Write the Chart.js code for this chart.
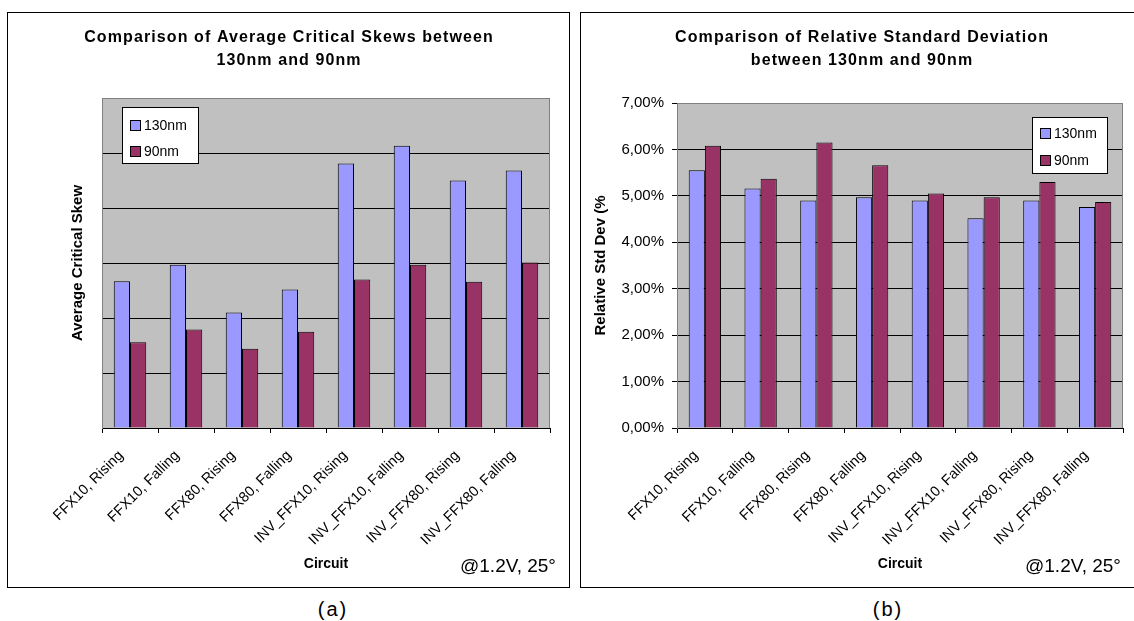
<!DOCTYPE html>
<html>
<head>
<meta charset="utf-8">
<title>130nm vs 90nm skew comparison</title>
<script src="https://cdn.jsdelivr.net/npm/chart.js@4.4.1/dist/chart.umd.min.js"></script>
<style>
  html, body { margin: 0; padding: 0; background: #fff; }
  body { width: 1134px; height: 621px; overflow: hidden; position: relative;
         font-family: "Liberation Sans", Arial, sans-serif; color: #000; }
  .panel { position: absolute; top: 12px; height: 576px; border: 1px solid #000; box-sizing: border-box; }
  #panelA { left: 7px; width: 563px; }
  #panelB { left: 580px; width: 563px; }
  .panel canvas { position: absolute; left: 0; top: 0; }
  .note { position: absolute; font-size: 19px; line-height: 1; white-space: nowrap; }
  .caption { position: absolute; top: 598px; font-size: 20px; letter-spacing: 2px; transform: translateX(-50%); }
</style>
</head>
<body>
<div class="panel" id="panelA"><canvas id="skewChart" width="561" height="574"></canvas></div>
<div class="panel" id="panelB"><canvas id="devChart" width="561" height="574"></canvas></div>
<div class="note" style="left:460px; top:556px;">@1.2V, 25°</div>
<div class="note" style="left:1025px; top:556px;">@1.2V, 25°</div>
<div class="caption" style="left:333px;">(a)</div>
<div class="caption" style="left:888px;">(b)</div>

<script>
const circuits = [
  "FFX10, Rising", "FFX10, Falling", "FFX80, Rising", "FFX80, Falling",
  "INV_FFX10, Rising", "INV_FFX10, Falling", "INV_FFX80, Rising", "INV_FFX80, Falling"
];

// average critical skew (no units on the axis)
const skew130 = [2.67, 2.97, 2.10, 2.52, 4.81, 5.13, 4.50, 4.68];
const skew90 = [1.56, 1.79, 1.44, 1.75, 2.70, 2.97, 2.66, 3.01];

// relative standard deviation, in percent
const dev130 = [5.55, 5.16, 4.90, 4.97, 4.90, 4.52, 4.90, 4.76];
const dev90 = [6.08, 5.37, 6.15, 5.66, 5.05, 4.97, 5.30, 4.87];
const devTicks = ["0,00%", "1,00%", "2,00%", "3,00%", "4,00%", "5,00%", "6,00%", "7,00%"];

const COLOR_130 = "#9999FF";
const COLOR_90 = "#993366";
const FONT = '"Liberation Sans", Arial, sans-serif';

Chart.defaults.font.family = FONT;
Chart.defaults.color = "#000";

// grey plot area with a thin grey frame, like the old spreadsheet charts
const plotFrame = {
  id: "plotFrame",
  beforeDraw(chart) {
    const { ctx, chartArea: a } = chart;
    ctx.save();
    ctx.fillStyle = "#C0C0C0";
    ctx.fillRect(a.left, a.top, a.right - a.left, a.bottom - a.top);
    ctx.restore();
  },
  beforeDatasetsDraw(chart) {
    const { ctx, chartArea: a } = chart;
    ctx.save();
    ctx.strokeStyle = "#808080";
    ctx.lineWidth = 1;
    ctx.beginPath();
    ctx.moveTo(Math.round(a.left) + 0.5, Math.round(a.top) + 0.5);
    ctx.lineTo(Math.round(a.right) - 0.5, Math.round(a.top) + 0.5);
    ctx.lineTo(Math.round(a.right) - 0.5, Math.round(a.bottom));
    ctx.stroke();
    ctx.restore();
  }
};

// two-line bold heading, slightly letter-spaced
const heading = {
  id: "heading",
  afterDraw(chart, args, opts) {
    const { ctx, width } = chart;
    ctx.save();
    ctx.font = "bold 16px " + FONT;
    if ("letterSpacing" in ctx) ctx.letterSpacing = opts.spacing + "px";
    ctx.fillStyle = "#000";
    ctx.textAlign = "center";
    ctx.textBaseline = "middle";
    opts.lines.forEach((line, i) => {
      ctx.fillText(line, width / 2 + opts.spacing / 2, opts.top + i * opts.gap);
    });
    ctx.restore();
  }
};

// boxed legend sitting inside the plot area
const boxLegend = {
  id: "boxLegend",
  afterDatasetsDraw(chart, args, opts) {
    const { ctx, chartArea: a } = chart;
    const x = Math.round(opts.side === "right" ? a.right - opts.dx - opts.width : a.left + opts.dx);
    const y = Math.round(a.top + opts.dy);
    ctx.save();
    ctx.fillStyle = "#fff";
    ctx.fillRect(x, y, opts.width, opts.height);
    ctx.strokeStyle = "#000";
    ctx.lineWidth = 1;
    ctx.strokeRect(x + 0.5, y + 0.5, opts.width - 1, opts.height - 1);
    ctx.font = "14px " + FONT;
    ctx.textBaseline = "middle";
    chart.data.datasets.forEach((ds, i) => {
      const cy = Math.round(y + opts.rowTop + i * opts.rowGap);
      ctx.fillStyle = ds.backgroundColor;
      ctx.fillRect(x + 8, cy - 5, 11, 11);
      ctx.strokeRect(x + 8.5, cy - 4.5, 10, 10);
      ctx.fillStyle = "#000";
      ctx.fillText(ds.label, x + 22, cy + 1);
    });
    ctx.restore();
  }
};

function barSet(label, data, color) {
  return {
    label,
    data,
    backgroundColor: color,
    borderColor: "#000",
    borderWidth: 1,
    categoryPercentage: 0.58,
    barPercentage: 1.0
  };
}

function xScale() {
  return {
    grid: { drawOnChartArea: false, drawTicks: true, tickLength: 5, tickColor: "#000" },
    border: { color: "#000", width: 1 },
    ticks: {
      autoSkip: false,
      minRotation: 45,
      maxRotation: 45,
      padding: 14,
      labelOffset: -9,
      font: { size: 14.5 }
    },
    title: {
      display: true,
      text: "Circuit",
      font: { size: 14, weight: "bold" },
      padding: { top: 0, bottom: 14 }
    },
    afterFit(axis) { axis.height = 159; }
  };
}

function yGrid(max) {
  return {
    color: (c) => (c.tick && c.tick.value === max ? "#808080" : "#000"),
    lineWidth: 1
  };
}

new Chart(document.getElementById("skewChart"), {
  type: "bar",
  data: {
    labels: circuits,
    datasets: [barSet("130nm", skew130, COLOR_130), barSet("90nm", skew90, COLOR_90)]
  },
  options: {
    responsive: false,
    animation: false,
    layout: { padding: { left: 0, right: 19, top: 85, bottom: 0 } },
    plugins: {
      legend: { display: false },
      title: { display: false },
      tooltip: { enabled: false },
      heading: {
        lines: ["Comparison of Average Critical Skews between", "130nm and 90nm"],
        top: 25, gap: 23, spacing: 1.1
      },
      boxLegend: { side: "left", dx: 20, dy: 9, width: 77, height: 57, rowTop: 18, rowGap: 26 }
    },
    scales: {
      x: xScale(),
      y: {
        min: 0,
        max: 6,
        ticks: { stepSize: 1, display: false },
        grid: Object.assign(yGrid(6), { drawTicks: false }),
        border: { color: "#808080", width: 1 },
        title: {
          display: true,
          text: "Average Critical Skew",
          font: { size: 15, weight: "bold" },
          padding: { top: 61, bottom: 0 }
        },
        afterFit(axis) { axis.width = 94; }
      }
    }
  },
  plugins: [plotFrame, heading, boxLegend]
});

new Chart(document.getElementById("devChart"), {
  type: "bar",
  data: {
    labels: circuits,
    datasets: [barSet("130nm", dev130, COLOR_130), barSet("90nm", dev90, COLOR_90)]
  },
  options: {
    responsive: false,
    animation: false,
    layout: { padding: { left: 0, right: 19, top: 90, bottom: 0 } },
    plugins: {
      legend: { display: false },
      title: { display: false },
      tooltip: { enabled: false },
      heading: {
        lines: ["Comparison of Relative Standard Deviation", "between 130nm and 90nm"],
        top: 25, gap: 23, spacing: 1.1
      },
      boxLegend: { side: "right", dx: 15, dy: 14, width: 76, height: 57, rowTop: 16, rowGap: 27 }
    },
    scales: {
      x: xScale(),
      y: {
        min: 0,
        max: 7,
        ticks: {
          stepSize: 1,
          padding: 8,
          font: { size: 15 },
          callback: (value, i) => devTicks[i]
        },
        grid: Object.assign(yGrid(7), { drawTicks: true, tickLength: 5, tickColor: "#000" }),
        border: { color: "#808080", width: 1 },
        title: {
          display: true,
          text: "Relative Std Dev (%",
          font: { size: 15, weight: "bold" },
          padding: { top: 11, bottom: 0 }
        },
        afterFit(axis) { axis.width = 96; }
      }
    }
  },
  plugins: [plotFrame, heading, boxLegend]
});
</script>
</body>
</html>
